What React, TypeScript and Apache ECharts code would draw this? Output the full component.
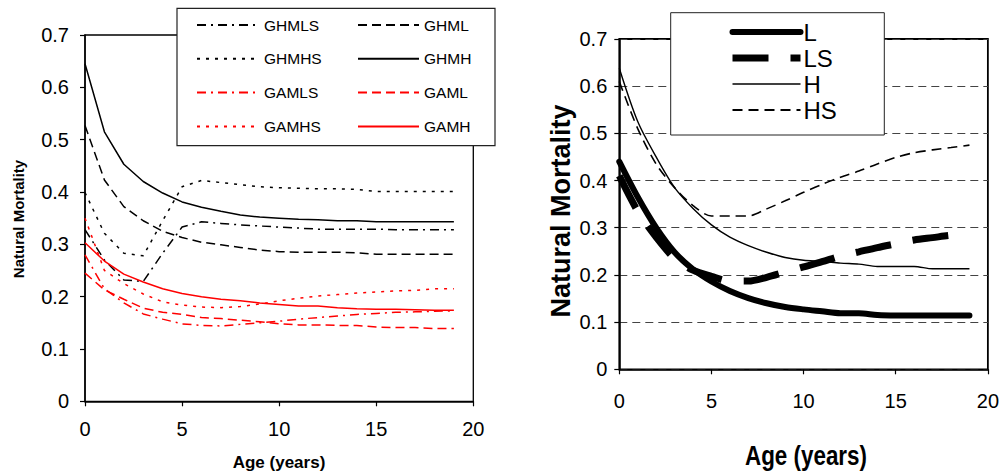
import React, { useEffect, useRef } from "react";
import * as echarts from "echarts";

const ages = [0, 1, 2, 3, 4, 5, 6, 7, 8, 9, 10, 11, 12, 13, 14, 15, 16, 17, 18, 19];

// Left panel
const GHMLS = [0.328, 0.27, 0.232, 0.229, 0.283, 0.333, 0.343, 0.34, 0.337, 0.335, 0.333, 0.331, 0.329, 0.329, 0.329, 0.329, 0.328, 0.328, 0.328, 0.328];
const GHML = [0.527, 0.423, 0.372, 0.345, 0.325, 0.313, 0.304, 0.299, 0.294, 0.289, 0.286, 0.285, 0.285, 0.285, 0.284, 0.281, 0.281, 0.281, 0.281, 0.281];
const GHMHS = [0.399, 0.321, 0.283, 0.278, 0.345, 0.41, 0.422, 0.418, 0.414, 0.41, 0.408, 0.407, 0.406, 0.406, 0.405, 0.401, 0.401, 0.401, 0.401, 0.401];
const GHMH = [0.645, 0.515, 0.453, 0.42, 0.398, 0.381, 0.371, 0.363, 0.356, 0.352, 0.35, 0.348, 0.347, 0.345, 0.345, 0.343, 0.343, 0.343, 0.343, 0.343];
const GAMLS = [0.28, 0.215, 0.188, 0.167, 0.157, 0.148, 0.145, 0.144, 0.147, 0.15, 0.153, 0.157, 0.16, 0.163, 0.166, 0.168, 0.17, 0.171, 0.172, 0.173];
const GAML = [0.245, 0.213, 0.195, 0.178, 0.17, 0.166, 0.16, 0.158, 0.155, 0.152, 0.148, 0.146, 0.146, 0.145, 0.145, 0.142, 0.141, 0.141, 0.139, 0.139];
const GAMHS = [0.35, 0.25, 0.225, 0.205, 0.19, 0.184, 0.18, 0.179, 0.181, 0.186, 0.192, 0.197, 0.201, 0.204, 0.207, 0.209, 0.211, 0.212, 0.215, 0.215];
const GAMH = [0.303, 0.268, 0.243, 0.228, 0.215, 0.206, 0.2, 0.195, 0.192, 0.188, 0.185, 0.182, 0.182, 0.179, 0.177, 0.176, 0.176, 0.175, 0.174, 0.174];

// Right panel
const L = [0.44, 0.365, 0.3, 0.248, 0.212, 0.186, 0.166, 0.151, 0.14, 0.132, 0.127, 0.123, 0.119, 0.119, 0.115, 0.114, 0.114, 0.114, 0.114, 0.114];
const LS = [0.41, 0.335, 0.28, 0.235, 0.21, 0.197, 0.187, 0.187, 0.195, 0.206, 0.217, 0.228, 0.24, 0.249, 0.258, 0.266, 0.274, 0.279, 0.284, 0.287];
const H = [0.638, 0.525, 0.45, 0.385, 0.341, 0.306, 0.28, 0.262, 0.248, 0.237, 0.231, 0.229, 0.225, 0.223, 0.218, 0.218, 0.218, 0.213, 0.213, 0.213];
const HS = [0.61, 0.51, 0.435, 0.385, 0.347, 0.325, 0.325, 0.325, 0.34, 0.357, 0.375, 0.392, 0.407, 0.42, 0.435, 0.449, 0.459, 0.465, 0.47, 0.475];

const yTicks = [0, 0.1, 0.2, 0.3, 0.4, 0.5, 0.6, 0.7];
const xTicks = [0, 5, 10, 15, 20];

const pairs = (vals: number[]) => ages.map((a, i) => [a, vals[i]]);

const ARIAL = "'Liberation Sans', Arial, sans-serif";

export default function App() {
  const ref = useRef<HTMLDivElement>(null);
  useEffect(() => {
    if (!ref.current) return;
    const chart = echarts.init(ref.current, undefined, { renderer: "svg" });

    const leftLine = (name: string, data: number[], color: string, dash: any) => ({
      name,
      type: "line",
      xAxisIndex: 0,
      yAxisIndex: 0,
      data: pairs(data),
      symbol: "none",
      lineStyle: { color, width: 1.5, type: dash },
      itemStyle: { color },
      z: 2,
    });
    const rightLine = (name: string, data: number[], width: number, dash: any, cap: string) => ({
      name,
      type: "line",
      xAxisIndex: 1,
      yAxisIndex: 1,
      data: pairs(data),
      symbol: "none",
      smooth: 0.3,
      lineStyle: { color: "#000", width, type: dash, cap },
      itemStyle: { color: "#000" },
      z: 2,
    });

    const yAxisBase = {
      type: "value",
      min: 0,
      max: 0.7,
      interval: 0.1,
      axisLine: { show: true, lineStyle: { color: "#000", width: 1.5 } },
      axisTick: { show: true, inside: false, length: 5, lineStyle: { color: "#000", width: 1.2 } },
    };
    const xAxisBase = {
      type: "value",
      min: 0,
      max: 20,
      interval: 5,
      axisLine: { show: true, onZero: false, lineStyle: { color: "#000", width: 1.5 } },
      axisTick: { show: true, inside: false, length: 5, lineStyle: { color: "#000", width: 1.2 } },
      splitLine: { show: false },
    };
    const yFmt = (v: number) => {
      const t = yTicks.find((k) => Math.abs(k - v) < 1e-6);
      return t === undefined ? "" : String(t);
    };
    const xFmt = (v: number) => (xTicks.includes(v) ? String(v) : "");
    const hiddenSymbol = { opacity: 0, borderWidth: 0 };

    chart.setOption({
      animation: false,
      backgroundColor: "#fff",
      grid: [
        { left: 85, right: 1002 - 473.3, top: 35, bottom: 472 - 401.3, show: true, borderColor: "#000", borderWidth: 1.3, backgroundColor: "transparent" },
        { left: 619.3, right: 1002 - 990.7, top: 39, bottom: 472 - 369.3, show: true, borderColor: "#000", borderWidth: 1.8, backgroundColor: "transparent" },
      ],
      xAxis: [
        { ...xAxisBase, gridIndex: 0, axisLabel: { fontFamily: ARIAL, fontSize: 20, color: "#000", margin: 18, formatter: xFmt } },
        { ...xAxisBase, gridIndex: 1, axisLabel: { fontFamily: ARIAL, fontSize: 20, color: "#000", margin: 22, formatter: xFmt } },
      ],
      yAxis: [
        { ...yAxisBase, gridIndex: 0, splitLine: { show: false }, axisLabel: { fontFamily: ARIAL, fontSize: 20, color: "#000", margin: 16, formatter: yFmt } },
        {
          ...yAxisBase,
          gridIndex: 1,
          splitLine: { show: true, lineStyle: { color: "#444", width: 1, type: [8, 5] } },
          axisLabel: { fontFamily: ARIAL, fontSize: 20, color: "#000", margin: 12, formatter: yFmt },
        },
      ],
      legend: [
        {
          orient: "vertical",
          left: 196,
          top: 17,
          padding: 0,
          itemWidth: 60,
          itemHeight: 16,
          itemGap: 17.8,
          data: ["GHMLS", "GHMHS", "GAMLS", "GAMHS"],
          itemStyle: hiddenSymbol,
          textStyle: { fontFamily: ARIAL, fontSize: 15.5, color: "#000", lineHeight: 16, padding: [0, 0, 0, 2] },
          selectedMode: false,
          z: 10,
        },
        {
          orient: "vertical",
          left: 357,
          top: 17,
          padding: 0,
          itemWidth: 61,
          itemHeight: 16,
          itemGap: 17.8,
          data: ["GHML", "GHMH", "GAML", "GAMH"],
          itemStyle: hiddenSymbol,
          textStyle: { fontFamily: ARIAL, fontSize: 15.5, color: "#000", lineHeight: 16, padding: [0, 0, 0, 0] },
          selectedMode: false,
          z: 10,
        },
        {
          orient: "vertical",
          left: 729,
          top: 20,
          padding: 0,
          itemWidth: 68,
          itemHeight: 20,
          itemGap: 2,
          data: [
            { name: "L", lineStyle: { width: 6, cap: "round" } },
            { name: "LS", lineStyle: { width: 7 } },
            { name: "H", lineStyle: { width: 1.4 } },
            { name: "HS", lineStyle: { width: 1.8 } },
          ],
          itemStyle: hiddenSymbol,
          textStyle: { fontFamily: ARIAL, fontSize: 24, color: "#000", lineHeight: 24, padding: [0, 0, 0, -2] },
          selectedMode: false,
          z: 10,
        },
      ],
      graphic: [
        { type: "rect", z: 5, shape: { x: 177, y: 8.3, width: 318, height: 137.4 }, style: { fill: "#fff", stroke: "#222", lineWidth: 1.2 } },
        { type: "rect", z: 5, shape: { x: 670.7, y: 12.7, width: 213.6, height: 122.3 }, style: { fill: "#fff", stroke: "#222", lineWidth: 1 } },
        {
          type: "text", z: 6, x: 279, y: 462,
          style: { text: "Age (years)", fontFamily: ARIAL, fontWeight: "bold", fontSize: 17, fill: "#000", textAlign: "center", textVerticalAlign: "middle" },
        },
        {
          type: "text", z: 6, x: 18, y: 219, rotation: Math.PI / 2,
          style: { text: "Natural Mortality", fontFamily: ARIAL, fontWeight: "bold", fontSize: 15, fill: "#000", textAlign: "center", textVerticalAlign: "middle" },
        },
        {
          type: "text", z: 6, x: 806, y: 455, scaleX: 0.8,
          style: { text: "Age (years)", fontFamily: ARIAL, fontWeight: "bold", fontSize: 28, fill: "#000", textAlign: "center", textVerticalAlign: "middle" },
        },
        {
          type: "text", z: 6, x: 561, y: 211, rotation: Math.PI / 2,
          style: { text: "Natural Mortality", fontFamily: ARIAL, fontWeight: "bold", fontSize: 27, fill: "#000", textAlign: "center", textVerticalAlign: "middle" },
        },
      ],
      series: [
        leftLine("GHMLS", GHMLS, "#000", [9, 5, 2, 5]),
        leftLine("GHML", GHML, "#000", [9, 5]),
        leftLine("GHMHS", GHMHS, "#000", [3, 6]),
        leftLine("GHMH", GHMH, "#000", "solid"),
        leftLine("GAMLS", GAMLS, "#ff0000", [9, 5, 2, 5]),
        leftLine("GAML", GAML, "#ff0000", [9, 5]),
        leftLine("GAMHS", GAMHS, "#ff0000", [3, 6]),
        leftLine("GAMH", GAMH, "#ff0000", "solid"),
        rightLine("L", L, 6, "solid", "round"),
        rightLine("LS", LS, 7, [36, 22], "butt"),
        rightLine("H", H, 1.4, "solid", "butt"),
        rightLine("HS", HS, 1.6, [10, 6], "butt"),
      ],
    });
    return () => chart.dispose();
  }, []);
  return <div ref={ref} style={{ position: "fixed", left: 0, top: 0, width: 1002, height: 472, background: "#fff" }} />;
}
